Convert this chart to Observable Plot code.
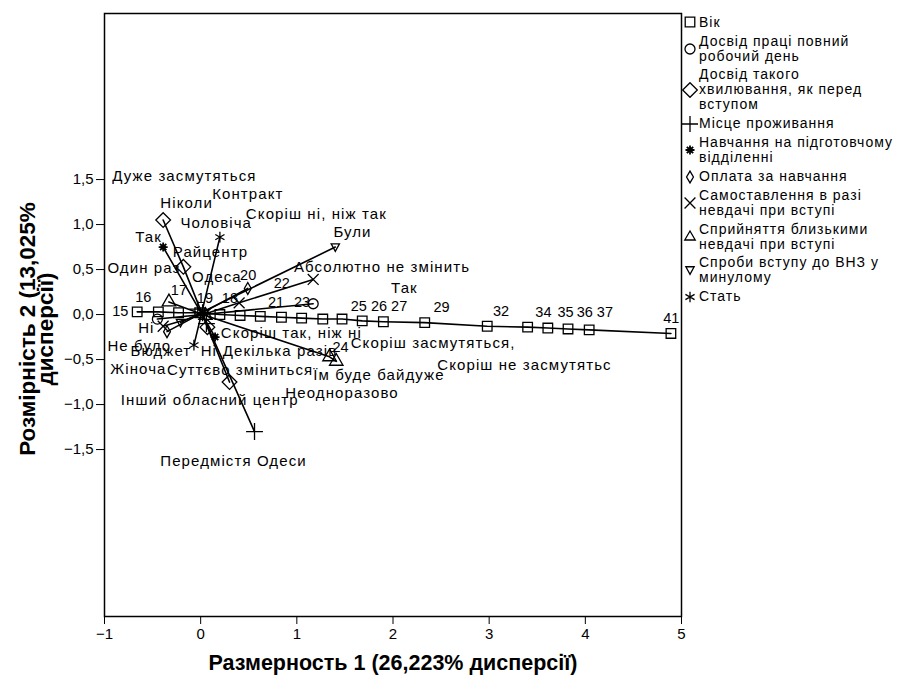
<!DOCTYPE html>
<html>
<head>
<meta charset="utf-8">
<script src="https://cdn.jsdelivr.net/npm/d3@7"></script>
<script src="https://cdn.jsdelivr.net/npm/@observablehq/plot@0.6"></script>
<style>
  body { margin: 0; background: #fff; font-family: Arial, "Liberation Sans", sans-serif; }
  #chart { position: relative; width: 903px; height: 679px; }
  #chart svg g[aria-label="text"]:not([font-weight]) { letter-spacing: 1.1px; }
  #legend { position: absolute; left: 682px; top: 14px; font-size: 14px; line-height: 15px; letter-spacing: 1px; color: #000; }
  .item { display: flex; align-items: center; margin-bottom: 3.5px; }
  .item svg { flex: 0 0 auto; margin-right: 1px; }
</style>
</head>
<body>
<div id="chart"><div id="legend"></div></div>
<script>
// Joint plot of category points (CATPCA), dimension 1 vs dimension 2.

// Вік — numeric categories
const ageCats = ["15","16","17","18","19","20","21","22","23","24","25","26","27","29","32","34","35","36","37","41"];
const ageX = [-0.66,-0.44,-0.23,-0.01,0.20,0.41,0.62,0.84,1.05,1.27,1.47,1.68,1.90,2.33,2.98,3.40,3.61,3.82,4.04,4.89];
const ageY = [0.03,0.03,0.02,0.02,0.00,-0.01,-0.02,-0.03,-0.04,-0.05,-0.05,-0.07,-0.08,-0.09,-0.13,-0.14,-0.15,-0.16,-0.17,-0.21];
const ageLabelX = [-0.92,-0.68,-0.31,0.22,-0.04,0.41,0.70,0.76,0.97,1.37,1.56,1.77,1.98,2.42,3.04,3.48,3.71,3.91,4.12,4.81];
const ageLabelY = [0.03,0.19,0.27,0.18,0.18,0.44,0.14,0.35,0.14,-0.36,0.09,0.09,0.09,0.08,0.03,0.02,0.02,0.02,0.02,-0.04];

// Other variables: [category, x, y, label x, label y]
const workExperience = [
  ["Так", 1.17, 0.12, 1.98, 0.29],
  ["Ні", -0.45, -0.05, -0.65, -0.15]
];
const anxietyExperience = [
  ["Ніколи", -0.39, 1.05, -0.42, 1.24],
  ["Один раз", -0.18, 0.53, -0.97, 0.51],
  ["Декілька разів", 0.07, -0.14, 0.23, -0.41],
  ["Неодноразово", 0.30, -0.75, 0.88, -0.87]
];
const residence = [
  ["Райцентр", -0.03, 0.06, -0.29, 0.69],
  ["Одеса", 0.02, 0.02, -0.09, 0.42],
  ["Інший обласний центр", 0.06, -0.10, -0.83, -0.95],
  ["Передмістя Одеси", 0.56, -1.30, -0.42, -1.63]
];
const preparatory = [
  ["Так", -0.39, 0.75, -0.68, 0.86],
  ["Ні", 0.15, -0.25, 0.00, -0.41]
];
const tuition = [
  ["Контракт", 0.49, 0.29, 0.12, 1.34],
  ["Бюджет", -0.35, -0.19, -0.73, -0.41]
];
const selfAttitude = [
  ["Суттєво зміниться", -0.39, -0.13, -0.35, -0.62],
  ["Скоріш так, ніж ні", 0.05, 0.01, 0.21, -0.21],
  ["Скоріш ні, ніж так", 0.40, 0.13, 0.47, 1.12],
  ["Абсолютно не змінить", 1.17, 0.39, 0.97, 0.53]
];
const relativesReaction = [
  ["Дуже засмутяться", -0.33, 0.14, -0.92, 1.54],
  ["Скоріш засмутяться,", 0.05, -0.01, 1.56, -0.32],
  ["Скоріш не засмутятьс", 1.34, -0.47, 2.46, -0.56],
  ["Їм буде байдуже", 1.41, -0.52, 1.17, -0.67]
];
const pastAttempts = [
  ["Були", 1.40, 0.75, 1.38, 0.91],
  ["Не було", -0.21, -0.09, -0.97, -0.35]
];
const sex = [
  ["Чоловіча", 0.20, 0.86, -0.21, 1.02],
  ["Жіноча", -0.07, -0.34, -0.94, -0.61]
];

const xTicks = [-1, 0, 1, 2, 3, 4, 5];
const yTicks = [-1.5, -1.0, -0.5, 0.0, 0.5, 1.0, 1.5];

// Marker shapes
const symbolDownTriangle = {
  draw(context, size) {
    const y = Math.sqrt(size / 5) * 1.1, x = y * 0.95;
    context.moveTo(0, y);
    context.lineTo(x, -y * 0.75);
    context.lineTo(-x, -y * 0.75);
    context.closePath();
  }
};
const symbolBurst = {
  draw(context, size) {
    const r = Math.sqrt(size / Math.PI);
    for (let k = 0; k < 4; ++k) {
      const a = k * Math.PI / 4;
      context.moveTo(-r * Math.cos(a), -r * Math.sin(a));
      context.lineTo(r * Math.cos(a), r * Math.sin(a));
    }
    context.moveTo(r * 0.45, 0);
    context.arc(0, 0, r * 0.45, 0, 2 * Math.PI);
  }
};

const variables = [
  {name: "Вік", symbol: "square", r: 5.4,
   rows: ageCats.map((c, i) => [c, ageX[i], ageY[i], ageLabelX[i], ageLabelY[i]])},
  {name: "Досвід праці повний робочий день", legend: ["Досвід праці повний", "робочий день"], symbol: "circle", r: 5, rows: workExperience},
  {name: "Досвід такого хвилювання, як перед вступом", legend: ["Досвід такого", "хвилювання, як перед", "вступом"], symbol: "diamond2", r: 6.6, rows: anxietyExperience},
  {name: "Місце проживання", symbol: "plus", r: 5.5, rows: residence},
  {name: "Навчання на підготовчому відділенні", legend: ["Навчання на підготовчому", "відділенні"], symbol: symbolBurst, r: 4.5, rows: preparatory, strokeWidth: 1.8},
  {name: "Оплата за навчання", symbol: "diamond", r: 3.6, rows: tuition},
  {name: "Самоставлення в разі невдачі при вступі", legend: ["Самоставлення в разі", "невдачі при вступі"], symbol: "times", r: 5, rows: selfAttitude},
  {name: "Сприйняття близькими невдачі при вступі", legend: ["Сприйняття близькими", "невдачі при вступі"], symbol: "triangle", r: 5, rows: relativesReaction},
  {name: "Спроби вступу до ВНЗ у минулому", legend: ["Спроби вступу до ВНЗ у", "минулому"], symbol: symbolDownTriangle, r: 5, rows: pastAttempts},
  {name: "Стать", symbol: "asterisk", r: 5, rows: sex}
];

const points = variables.flatMap(v => v.rows.map(([label, x, y, lx, ly]) => ({variable: v.name, label, x, y, lx, ly})));

const marks = [
  Plot.frame({stroke: "#000", strokeWidth: 1.5}),
  Plot.axisX({ticks: xTicks, tickSize: 8, tickPadding: 4, tickFormat: d3.format("d"), fontSize: 15, label: null}),
  Plot.axisY({ticks: yTicks, tickSize: 8, tickPadding: 3, tickFormat: d => d3.format(".1f")(d).replace(".", ","), fontSize: 15, label: null}),
  Plot.text(["Размерность 1 (26,223% дисперсії)"], {frameAnchor: "bottom", textAnchor: "middle", lineAnchor: "middle", dy: 47, fontSize: 21.5, fontWeight: "bold"}),
  Plot.text(["Розмірність 2 (13,025%\nдисперсії)"], {frameAnchor: "left", textAnchor: "middle", lineAnchor: "middle", dx: -66, dy: 14, rotate: -90, fontSize: 22.5, fontWeight: "bold", lineHeight: 0.8})
];

for (const v of variables) {
  const pts = points.filter(p => p.variable === v.name);
  marks.push(Plot.line(pts, {x: "x", y: "y", stroke: "#000", strokeWidth: 1.6}));
}
for (const v of variables) {
  const pts = points.filter(p => p.variable === v.name);
  marks.push(Plot.dot(pts, {x: "x", y: "y", symbol: () => v.symbol, r: v.r, fill: "none", stroke: "#000", strokeWidth: v.strokeWidth ?? 1.3}));
}
// Category labels: age values with plain spacing, word categories letter-spaced
const isAge = p => p.variable === "Вік";
marks.push(Plot.text(points.filter(isAge), {x: "lx", y: "ly", text: "label", textAnchor: "start", fontSize: 14.5, fontWeight: "normal", fill: "#000"}));
marks.push(Plot.text(points.filter(p => !isAge(p)), {x: "lx", y: "ly", text: "label", textAnchor: "start", fontSize: 15, fill: "#000"}));

const chart = Plot.plot({
  width: 903,
  height: 679,
  marginLeft: 104,
  marginRight: 222,
  marginTop: 13,
  marginBottom: 63,
  style: {fontFamily: "Arial, 'Liberation Sans', sans-serif", color: "#000", background: "#fff"},
  x: {domain: [-1, 5]},
  y: {domain: [-3.355, 3.345]},
  symbol: {type: "identity"},
  marks
});
document.getElementById("chart").prepend(chart);

// Legend on the right
const legend = d3.select("#legend");
const symbolTypes = {square: d3.symbolSquare, circle: d3.symbolCircle, diamond2: d3.symbolDiamond2, plus: d3.symbolPlus, diamond: d3.symbolDiamond, times: d3.symbolTimes, triangle: d3.symbolTriangle2, asterisk: d3.symbolAsterisk};
for (const v of variables) {
  const item = legend.append("div").attr("class", "item");
  const svg = item.append("svg").attr("width", 16).attr("height", 16).attr("viewBox", "-8 -8 16 16");
  const type = typeof v.symbol === "string" ? symbolTypes[v.symbol] : v.symbol;
  svg.append("path").attr("d", d3.symbol(type, Math.PI * v.r * v.r)())
    .attr("fill", "none").attr("stroke", "#000").attr("stroke-width", v.strokeWidth ?? 1.3);
  const text = item.append("div");
  (v.legend ?? [v.name]).forEach(line => text.append("div").text(line));
}
</script>
</body>
</html>
